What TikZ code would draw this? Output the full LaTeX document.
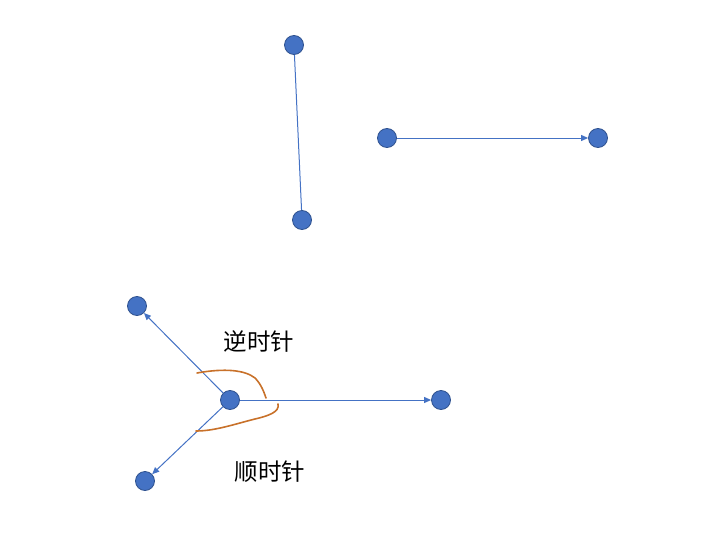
\documentclass[tikz,border=0pt]{standalone}
\usepackage{fontspec}
\newfontfamily\cjk{Noto Sans CJK SC}
\usetikzlibrary{arrows.meta}
\definecolor{nodefill}{HTML}{4472C4}
\definecolor{nodeedge}{HTML}{2F528F}
\definecolor{curve}{HTML}{C8712A}
\tikzset{
  dot/.style={circle, fill=nodefill, draw=nodeedge, line width=0.8pt, minimum size=19pt, inner sep=0pt},
  link/.style={draw=nodefill, line width=1pt},
  arr/.style={link, -{Triangle[length=7pt,width=6pt]}},
  hand/.style={draw=curve, line width=1.6pt, line cap=round},
  lbl/.style={font=\cjk\fontsize{23.5}{27}\selectfont, text=black, inner sep=0pt}
}
\begin{document}
\begin{tikzpicture}[x=1pt,y=-1pt]
\useasboundingbox (0,0) rectangle (714,559);
\node[dot] (a1) at (294,45) {};
\node[dot] (a2) at (302,220) {};
\node[dot] (b1) at (387,138) {};
\node[dot] (b2) at (598,138) {};
\node[dot] (c) at (230,400) {};
\node[dot] (c1) at (137,306) {};
\node[dot] (c2) at (441,400) {};
\node[dot] (c3) at (145,481) {};
\draw[link] (a1) -- (a2);
\draw[arr] (b1) -- (b2);
\draw[arr] (c) -- (c1);
\draw[arr] (c) -- (c2);
\draw[arr] (c) -- (c3);
\draw[hand] (197,373) .. controls (225,368) and (245,370) .. (255,378) .. controls (261,384) and (264,392) .. (266,398);
\draw[hand] (278,404) .. controls (280,412) and (268,416) .. (255,419) .. controls (235,424) and (215,431) .. (196,431);
\node[lbl] (t1) at (259,341) {逆时针};
\node[lbl] (t2) at (270,472) {顺时针};
\end{tikzpicture}
\end{document}
